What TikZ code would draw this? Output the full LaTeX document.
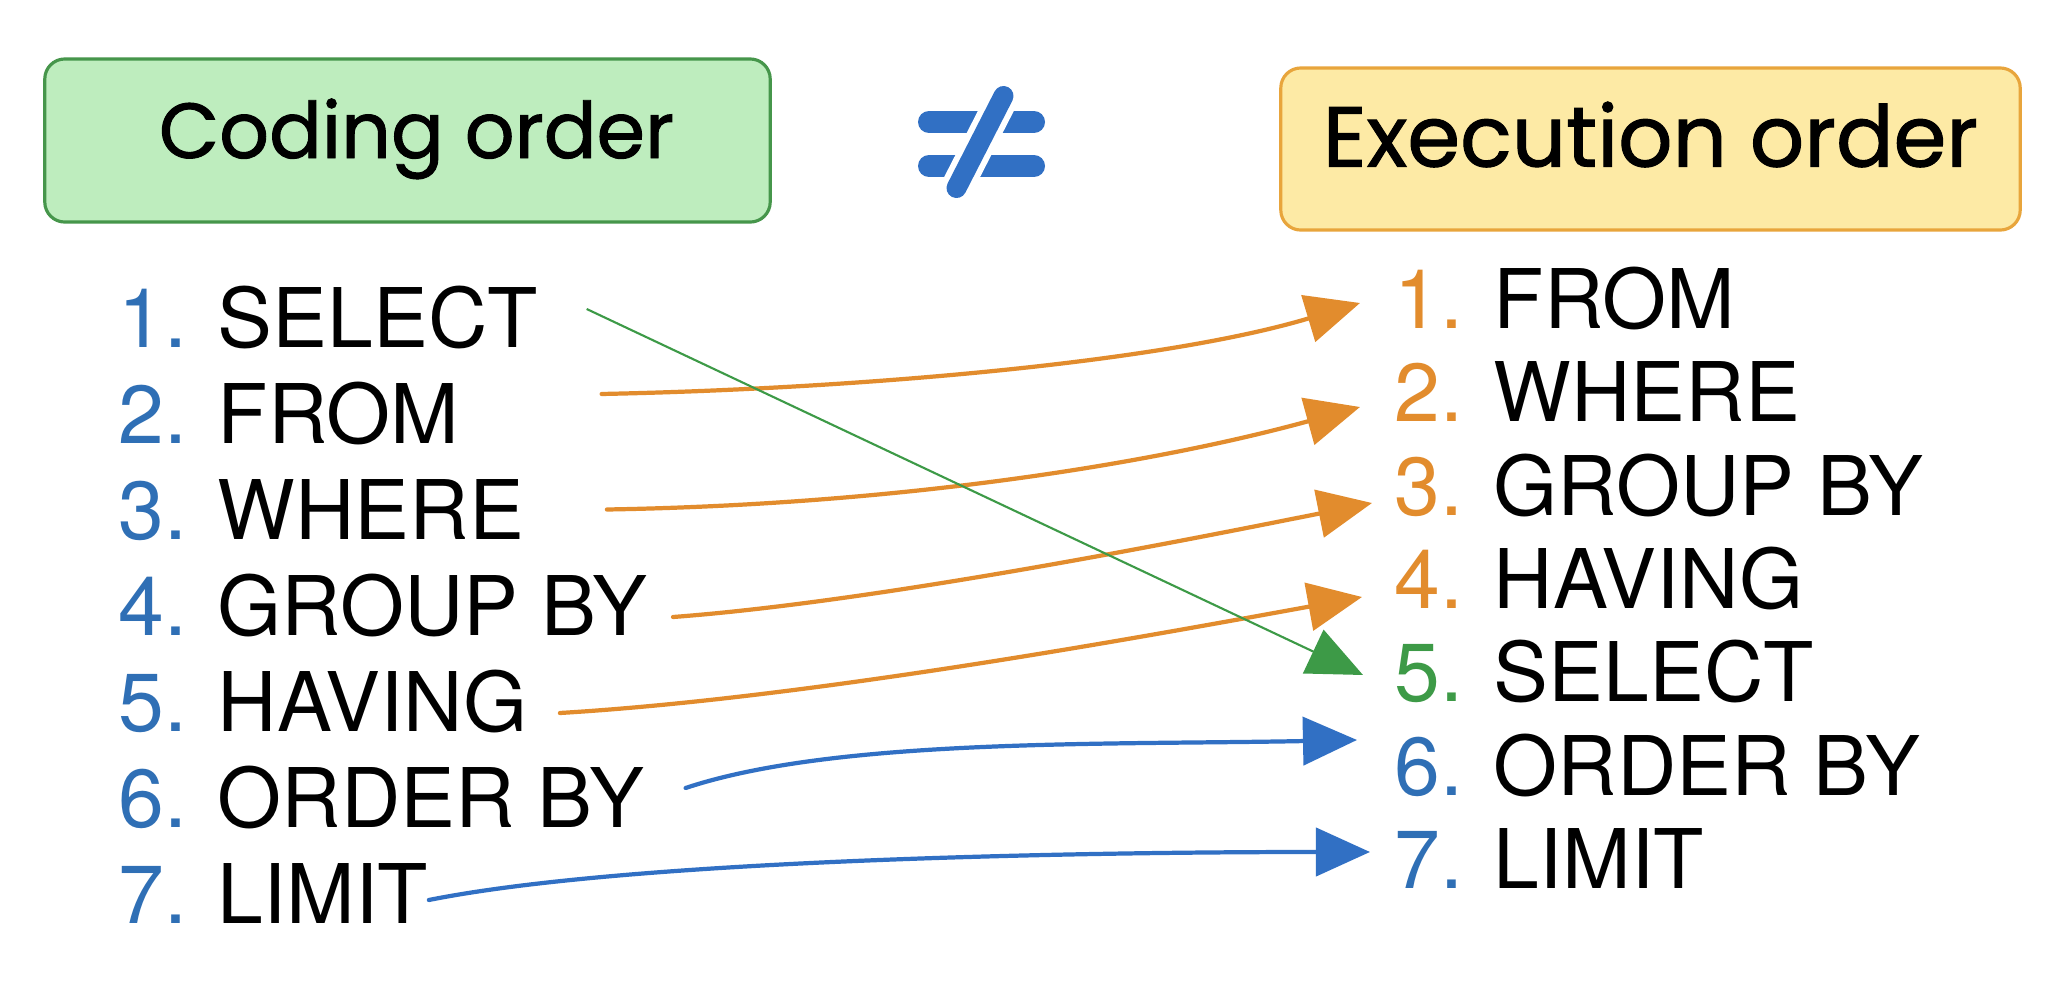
\documentclass[tikz,border=0pt]{standalone}
\usepackage{fontspec}
\setmainfont{TeX Gyre Heros}
\newfontfamily\hand[FakeBold=1.2]{Poppins}
\usetikzlibrary{arrows.meta,calc}
\definecolor{nblue}{RGB}{47,111,181}
\definecolor{ablue}{RGB}{49,112,196}
\definecolor{orng}{RGB}{226,140,45}
\definecolor{grn}{RGB}{61,154,71}
\definecolor{gfill}{RGB}{190,237,190}
\definecolor{gline}{RGB}{70,150,75}
\definecolor{yfill}{RGB}{253,234,165}
\definecolor{yline}{RGB}{232,165,60}
\tikzset{
  titlebox/.style={rounded corners=2mm, line width=0.9pt, inner sep=0pt,
    text height=5.1mm, text depth=1.6mm},
  item/.style={inner sep=0pt, anchor=base west, text height=5.9mm, text depth=0pt,
    font=\fontsize{23.4pt}{28pt}\selectfont},
  conn/.style={line width=1.2pt, line cap=round,
    -{Triangle[length=5.4mm,width=4.8mm]}},
  oconn/.style={conn, draw=orng},
  bconn/.style={conn, draw=ablue},
  gconn/.style={line width=0.6pt, draw=grn, -{Triangle[length=5.5mm,width=4.8mm]}},
  neqbar/.style={ablue, line width=2.2mm, line cap=round},
}
\begin{document}
\begin{tikzpicture}[x=0.01cm,y=-0.01cm]
\useasboundingbox (0,0) rectangle (2060,990);
\fill[white] (0,0) rectangle (2060,990);

% title boxes
\node[titlebox, draw=gline, fill=gfill, minimum width=7.25cm, minimum height=1.63cm,
  font=\hand\fontsize{22.2pt}{28pt}\selectfont]
  (code) at (407.5,140.5) {\hspace*{0.18cm}Coding order};
\node[titlebox, draw=yline, fill=yfill, minimum width=7.39cm, minimum height=1.62cm,
  font=\hand\fontsize{24.2pt}{28pt}\selectfont]
  (exec) at (1650.5,149) {Execution order};

% not-equal sign
\draw[neqbar] (929,122) -- (1034,122);
\draw[neqbar] (929,166) -- (1034,166);
\draw[white, line width=3.2mm, line cap=round] (1003.5,96) -- (956.5,188);
\draw[ablue, line width=2.0mm, line cap=round] (1003.5,96) -- (956.5,188);

% coding order list
\node[item] (L1) at (118,347) {\textcolor{nblue}{1.} SELECT};
\node[item] (L2) at (118,443) {\textcolor{nblue}{2.} FROM};
\node[item] (L3) at (118,539) {\textcolor{nblue}{3.} WHERE};
\node[item] (L4) at (118,635) {\textcolor{nblue}{4.} GROUP BY};
\node[item] (L5) at (118,731) {\textcolor{nblue}{5.} HAVING};
\node[item] (L6) at (118,827) {\textcolor{nblue}{6.} ORDER BY};
\node[item] (L7) at (118,923) {\textcolor{nblue}{7.} LIMIT};

% execution order list
\node[item] (R1) at (1394,328) {\textcolor{orng}{1.} FROM};
\node[item] (R2) at (1394,421) {\textcolor{orng}{2.} WHERE};
\node[item] (R3) at (1394,515) {\textcolor{orng}{3.} GROUP BY};
\node[item] (R4) at (1394,608) {\textcolor{orng}{4.} HAVING};
\node[item] (R5) at (1394,701) {\textcolor{grn}{5.} SELECT};
\node[item] (R6) at (1394,795) {\textcolor{nblue}{6.} ORDER BY};
\node[item] (R7) at (1394,888) {\textcolor{nblue}{7.} LIMIT};

% connectors
\draw[oconn] ([xshift=14.2mm,yshift=1.95mm]L2.east) .. controls +(250,-5) and +(-200,60) .. ([xshift=-3.4mm,yshift=-0.45mm]R1.west);
\draw[oconn] ([xshift=8.2mm,yshift=0mm]L3.east) .. controls +(300,-5) and +(-200,55) .. ([xshift=-3.4mm,yshift=-1.55mm]R2.west);
\draw[oconn] ([xshift=2.5mm,yshift=-1.15mm]L4.east) .. controls +(200,-15) and +(-200,40) .. ([xshift=-2.2mm,yshift=-1.75mm]R3.west);
\draw[oconn] ([xshift=3.2mm,yshift=-1.15mm]L5.east) .. controls +(250,-15) and +(-220,40) .. ([xshift=-3.2mm,yshift=-1.85mm]R4.west);
\draw[gconn] ([xshift=4.8mm,yshift=0.85mm]L1.east) -- ([xshift=-3.1mm,yshift=-0.35mm]R5.west);
\draw[bconn] ([xshift=4.1mm,yshift=0.95mm]L6.east) .. controls +(150,-50) and +(-250,5) .. ([xshift=-3.7mm,yshift=2.55mm]R6.west);
\draw[bconn] ([xshift=0mm,yshift=-0.65mm]L7.east) .. controls +(200,-40) and +(-300,0) .. ([xshift=-2.4mm,yshift=0.65mm]R7.west);
\end{tikzpicture}
\end{document}
